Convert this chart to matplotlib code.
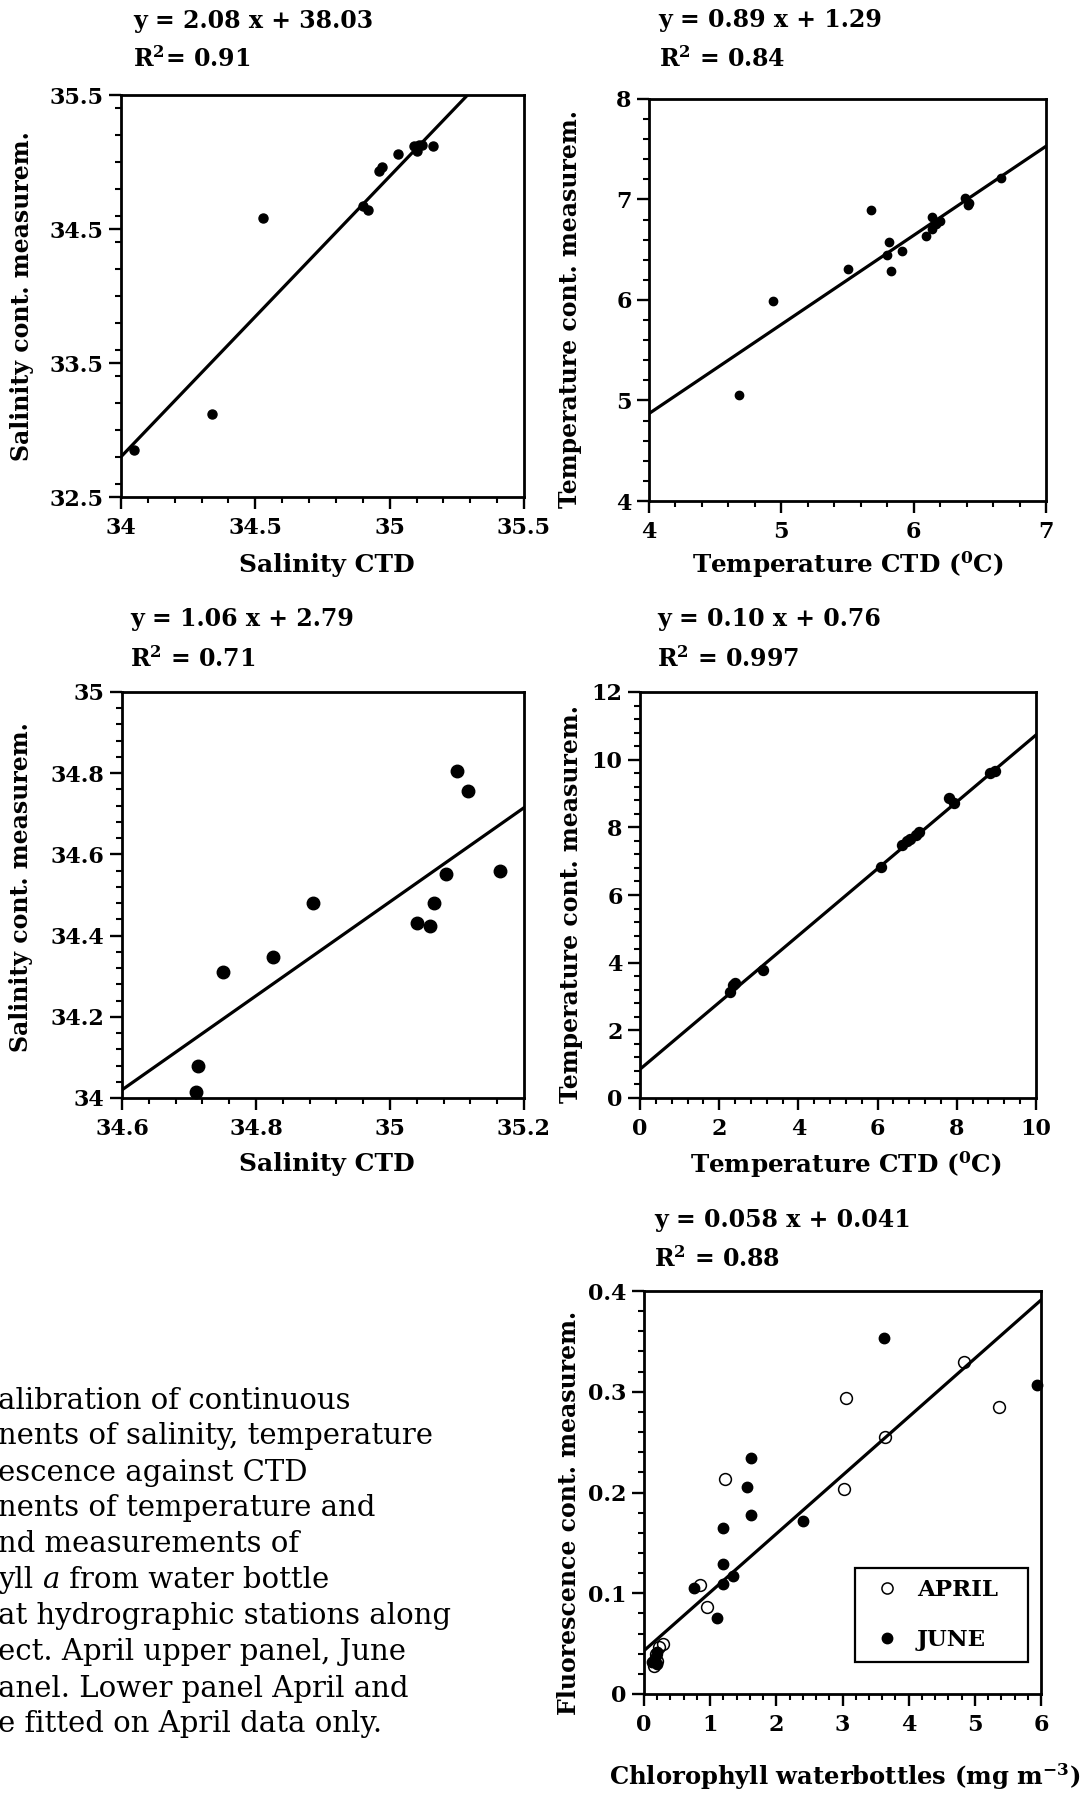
import matplotlib
matplotlib.use('Agg')
import matplotlib.pyplot as plt
from matplotlib.ticker import FixedLocator, FixedFormatter, MultipleLocator
from matplotlib.lines import Line2D

plt.rcParams['font.family'] = ['DejaVu Serif']
plt.rcParams['font.weight'] = 'bold'
plt.rcParams['mathtext.fontset'] = 'dejavuserif'
plt.rcParams['mathtext.default'] = 'bf'

# ---------------- data ----------------
# Panel 1: salinity, April
sal_apr_ctd = [34.05, 34.34, 34.53, 34.90, 34.92, 34.96, 34.97, 35.03, 35.09, 35.10, 35.11, 35.12, 35.16]
sal_apr_cont = [32.85, 33.12, 34.58, 34.67, 34.64, 34.93, 34.96, 35.06, 35.12, 35.08, 35.13, 35.13, 35.12]
sal_apr_fit_x = [34.0, 35.29]
sal_apr_fit_y = [32.80, 35.50]
sal_apr_xticks = [34, 34.5, 35, 35.5]
sal_apr_xlabels = ["34", "34.5", "35", "35.5"]
sal_apr_yticks = [32.5, 33.5, 34.5, 35.5]
sal_apr_ylabels = ["32.5", "33.5", "34.5", "35.5"]

# Panel 2: temperature, April
tmp_apr_ctd = [4.68, 4.94, 5.50, 5.68, 5.80, 5.81, 5.83, 5.91, 6.09, 6.14, 6.14, 6.17, 6.20, 6.39, 6.41, 6.42, 6.66]
tmp_apr_cont = [5.05, 5.99, 6.31, 6.90, 6.45, 6.58, 6.29, 6.49, 6.64, 6.83, 6.71, 6.76, 6.79, 7.01, 6.95, 6.97, 7.21]
tmp_apr_fit_x = [4.0, 7.0]
tmp_apr_fit_y = [4.87, 7.53]
tmp_apr_xticks = [4, 5, 6, 7]
tmp_apr_xlabels = ["4", "5", "6", "7"]
tmp_apr_yticks = [4, 5, 6, 7, 8]
tmp_apr_ylabels = ["4", "5", "6", "7", "8"]

# Panel 3: salinity, June
sal_jun_ctd = [34.711, 34.714, 34.751, 34.826, 34.885, 35.041, 35.059, 35.066, 35.083, 35.100, 35.117, 35.164]
sal_jun_cont = [34.014, 34.078, 34.311, 34.347, 34.480, 34.430, 34.423, 34.480, 34.551, 34.805, 34.757, 34.560]
sal_jun_fit_x = [34.6, 35.2]
sal_jun_fit_y = [34.02, 34.715]
sal_jun_xticks = [34.6, 34.8, 35.0, 35.2]
sal_jun_xlabels = ["34.6", "34.8", "35", "35.2"]
sal_jun_yticks = [34.0, 34.2, 34.4, 34.6, 34.8, 35.0]
sal_jun_ylabels = ["34", "34.2", "34.4", "34.6", "34.8", "35"]

# Panel 4: temperature, June
tmp_jun_ctd = [2.28, 2.36, 2.40, 3.10, 6.09, 6.62, 6.75, 6.82, 6.96, 7.05, 7.81, 7.92, 8.84, 8.96]
tmp_jun_cont = [3.13, 3.35, 3.40, 3.77, 6.84, 7.47, 7.61, 7.65, 7.76, 7.85, 8.86, 8.71, 9.61, 9.66]
tmp_jun_fit_x = [0.0, 10.0]
tmp_jun_fit_y = [0.85, 10.73]
tmp_jun_xticks = [0, 2, 4, 6, 8, 10]
tmp_jun_xlabels = ["0", "2", "4", "6", "8", "10"]
tmp_jun_yticks = [0, 2, 4, 6, 8, 10, 12]
tmp_jun_ylabels = ["0", "2", "4", "6", "8", "10", "12"]

# Panel 5: fluorescence vs chlorophyll
chl_apr = [1.23, 3.05, 3.03, 3.64, 4.83, 5.37, 0.84, 0.95, 0.29, 0.22, 0.15, 0.20, 0.18]
flu_apr = [0.213, 0.294, 0.203, 0.255, 0.330, 0.285, 0.108, 0.086, 0.050, 0.047, 0.028, 0.033, 0.040]
chl_jun = [3.63, 5.94, 1.61, 1.55, 1.61, 1.19, 2.40, 1.19, 1.34, 1.19, 1.10, 0.76, 0.12, 0.16, 0.19, 0.20]
flu_jun = [0.353, 0.307, 0.234, 0.205, 0.178, 0.165, 0.172, 0.129, 0.117, 0.109, 0.075, 0.105, 0.032, 0.036, 0.042, 0.030]
flu_fit_x = [0.0, 6.0]
flu_fit_y = [0.043, 0.391]
flu_xticks = [0, 1, 2, 3, 4, 5, 6]
flu_xlabels = ["0", "1", "2", "3", "4", "5", "6"]
flu_yticks = [0, 0.1, 0.2, 0.3, 0.4]
flu_ylabels = ["0", "0.1", "0.2", "0.3", "0.4"]

equations = ["y = 2.08 x + 38.03", "y = 0.89 x + 1.29", "y = 1.06 x + 2.79",
             "y = 0.10 x + 0.76", "y = 0.058 x + 0.041"]
r2_texts = [r"R$^{2}$= 0.91", r"R$^{2}$ = 0.84", r"R$^{2}$ = 0.71",
            r"R$^{2}$ = 0.997", r"R$^{2}$ = 0.88"]

# caption lines (left part cut off in the reference); line 6 has an italic "a"
caption_lines = ["alibration of continuous",
                 "nents of salinity, temperature",
                 "escence against CTD",
                 "nents of temperature and",
                 "nd measurements of",
                 ["yll ", "a", " from water bottle"],
                 "at hydrographic stations along",
                 "ect. April upper panel, June",
                 "anel. Lower panel April and",
                 "e fitted on April data only."]

# ---------------- figure ----------------
W, H = 1084, 1793
fig = plt.figure(figsize=(W / 100, H / 100), dpi=100)


def add_ax(l, r, t, b):
    return fig.add_axes([l / W, 1 - b / H, (r - l) / W, (b - t) / H])


def style(ax, xlim, ylim, xt, xl, yt, yl, xminor, yminor):
    ax.set_xlim(*xlim)
    ax.set_ylim(*ylim)
    ax.xaxis.set_major_locator(FixedLocator(xt))
    ax.xaxis.set_major_formatter(FixedFormatter(xl))
    ax.yaxis.set_major_locator(FixedLocator(yt))
    ax.yaxis.set_major_formatter(FixedFormatter(yl))
    ax.xaxis.set_minor_locator(MultipleLocator(xminor))
    ax.yaxis.set_minor_locator(MultipleLocator(yminor))
    ax.tick_params(which='major', direction='out', length=8.5, width=1.7,
                   labelsize=16)
    ax.tick_params(axis='x', which='major', pad=6)
    ax.tick_params(axis='y', which='major', pad=4)
    ax.tick_params(which='minor', direction='out', length=4, width=1.5)
    for s in ax.spines.values():
        s.set_linewidth(2.0)


def labels(ax, xlab, ylab, xpos, xlab_y, ylab_x, ylab_y, eq, r2, eqx, eqy, r2y, xsize=18):
    ax.set_xlabel(xlab, fontsize=xsize, fontweight='bold')
    ax.xaxis.set_label_coords(xpos, xlab_y)
    ax.xaxis.label.set_va('center')
    ax.set_ylabel(ylab, fontsize=17, fontweight='bold')
    ax.yaxis.set_label_coords(ylab_x, ylab_y)
    ax.yaxis.label.set_va('center')
    ax.text(eqx, eqy, eq, transform=ax.transAxes, fontsize=17,
            fontweight='bold', ha='left', va='center')
    ax.text(eqx, r2y, r2, transform=ax.transAxes, fontsize=17,
            fontweight='bold', ha='left', va='center')


# Panel 1
ax1 = add_ax(121, 524, 95, 497)
ax1.plot(sal_apr_fit_x, sal_apr_fit_y, color='black', lw=2.3)
ax1.plot(sal_apr_ctd, sal_apr_cont, 'o', color='black', ms=6.5, clip_on=False)
style(ax1, (34, 35.5), (32.5, 35.5), sal_apr_xticks, sal_apr_xlabels,
      sal_apr_yticks, sal_apr_ylabels, 0.1, 0.2)
labels(ax1, "Salinity CTD", "Salinity cont. measurem.", 0.51, -0.168, -0.246, 0.5,
       equations[0], r2_texts[0], 0.03, 1.183, 1.09)

# Panel 2
ax2 = add_ax(649, 1046, 99, 501)
ax2.plot(tmp_apr_fit_x, tmp_apr_fit_y, color='black', lw=2.3)
ax2.plot(tmp_apr_ctd, tmp_apr_cont, 'o', color='black', ms=6, clip_on=False)
style(ax2, (4, 7), (4, 8), tmp_apr_xticks, tmp_apr_xlabels,
      tmp_apr_yticks, tmp_apr_ylabels, 0.2, 0.2)
labels(ax2, r"Temperature CTD ($^{0}$C)", "Temperature cont. measurem.", 0.5, -0.159, -0.199, 0.478,
       equations[1], r2_texts[1], 0.024, 1.196, 1.10, xsize=17.7)

# Panel 3
ax3 = add_ax(122, 524, 692, 1098)
ax3.plot(sal_jun_fit_x, sal_jun_fit_y, color='black', lw=2.3)
ax3.plot(sal_jun_ctd, sal_jun_cont, 'o', color='black', ms=9, clip_on=False)
style(ax3, (34.6, 35.2), (34, 35), sal_jun_xticks, sal_jun_xlabels,
      sal_jun_yticks, sal_jun_ylabels, 0.04, 0.04)
labels(ax3, "Salinity CTD", "Salinity cont. measurem.", 0.51, -0.163, -0.25, 0.52,
       equations[2], r2_texts[2], 0.02, 1.18, 1.082)

# Panel 4
ax4 = add_ax(640, 1036, 692, 1098)
ax4.plot(tmp_jun_fit_x, tmp_jun_fit_y, color='black', lw=2.3)
ax4.plot(tmp_jun_ctd, tmp_jun_cont, 'o', color='black', ms=7.2, clip_on=False)
style(ax4, (0, 10), (0, 12), tmp_jun_xticks, tmp_jun_xlabels,
      tmp_jun_yticks, tmp_jun_ylabels, 0.4, 0.4)
labels(ax4, r"Temperature CTD ($^{0}$C)", "Temperature cont. measurem.", 0.52, -0.163, -0.174, 0.478,
       equations[3], r2_texts[3], 0.043, 1.18, 1.082, xsize=17.7)

# Panel 5
ax5 = add_ax(644, 1041, 1291, 1694)
ax5.plot(flu_fit_x, flu_fit_y, color='black', lw=2.3)
ax5.plot(chl_apr, flu_apr, 'o', mfc='none', mec='black', mew=1.1, ms=8.5, clip_on=False)
ax5.plot(chl_jun, flu_jun, 'o', color='black', ms=7.5, clip_on=False)
style(ax5, (0, 6), (0, 0.4), flu_xticks, flu_xlabels,
      flu_yticks, flu_ylabels, 0.2, 0.02)
labels(ax5, r"Chlorophyll waterbottles (mg m$^{-3}$)", "Fluorescence cont. measurem.", 0.505, -0.205, -0.188, 0.45,
       equations[4], r2_texts[4], 0.026, 1.177, 1.08, xsize=17.5)

handles = [Line2D([], [], ls='none', marker='o', mfc='none', mec='black', mew=1.1, ms=8),
           Line2D([], [], ls='none', marker='o', color='black', ms=7.5)]
leg = ax5.legend(handles, ["APRIL", "JUNE"], loc='upper left',
                 bbox_to_anchor=(0.531, 0.057, 0.436, 0.256), mode='expand',
                 borderaxespad=0, frameon=True, fancybox=False, shadow=False,
                 prop={'family': 'DejaVu Serif', 'weight': 'bold', 'size': 16.5},
                 borderpad=0.5, labelspacing=1.2, handlelength=1.8, handletextpad=0.4)
leg.get_frame().set_edgecolor('black')
leg.get_frame().set_linewidth(1.6)
leg.get_frame().set_facecolor('white')
leg.get_frame().set_alpha(1)

# Caption (cut at the left in the reference)
cap_y = [1401, 1436, 1473, 1508, 1544, 1580, 1616, 1652, 1689, 1724]
renderer = fig.canvas.get_renderer()
for line, yy in zip(caption_lines, cap_y):
    if isinstance(line, str):
        fig.text(-2 / W, 1 - yy / H, line, fontsize=21, fontweight='normal',
                 family='DejaVu Serif', ha='left', va='center')
    else:
        xpx = -2
        for k, piece in enumerate(line):
            t = fig.text(xpx / W, 1 - yy / H, piece, fontsize=21, fontweight='normal',
                         fontstyle='italic' if k == 1 else 'normal',
                         family='DejaVu Serif', ha='left', va='center')
            bb = t.get_window_extent(renderer=renderer)
            xpx += bb.width

fig.savefig('out.png', dpi=100)
